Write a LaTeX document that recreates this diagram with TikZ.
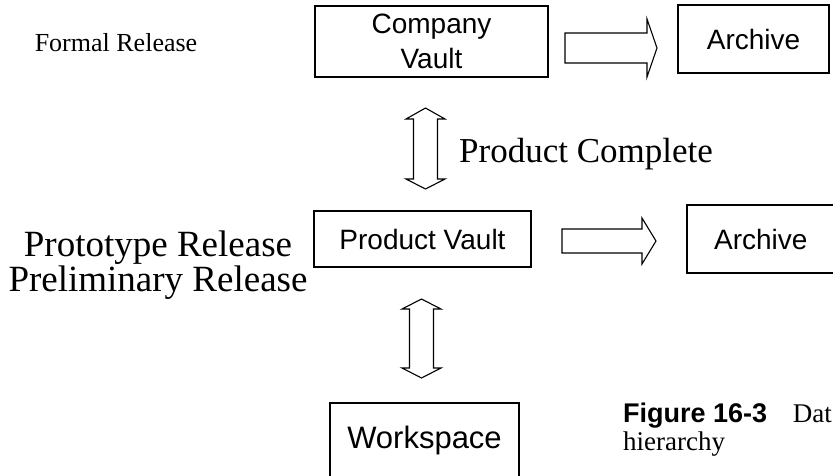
\documentclass[tikz,border=0pt]{standalone}
\usepackage{fontspec}
\setmainfont{Liberation Serif}
\newfontfamily\arialfont{Liberation Sans}
\begin{document}
\begin{tikzpicture}[x=1pt,y=-1pt,
  vault/.style={draw, line width=1.2pt, inner sep=0pt, align=center,
    font=\arialfont\fontsize{28}{35}\selectfont},
  level/.style={inner sep=0pt, anchor=base},
  blockarrow/.style={draw, line width=1.1pt, line join=miter, fill=white}]
\useasboundingbox (0,0) rectangle (833,475);
\clip (0,0) rectangle (833,475);

% storage boxes
\node[vault, minimum width=233pt, minimum height=71pt] (cv) at (431.5,41.5) {Company\\Vault};
\node[vault, minimum width=151pt, minimum height=68pt] (ar1) at (753.5,39) {Archive};
\node[vault, minimum width=217pt, minimum height=56pt] (pv) at (422.5,239) {Product Vault};
\node[vault, minimum width=147.5pt, minimum height=68pt] (ar2) at (760.75,239) {Archive};
\node[vault, minimum width=189pt, minimum height=75pt,
  font=\arialfont\fontsize{31}{35}\selectfont] (ws) at (424.5,440.5) {Workspace};

% release levels
\node[level, font=\fontsize{26}{30}\selectfont] (formal) at (116,51) {Formal Release};
\node[level, font=\fontsize{35}{40}\selectfont] (complete) at (586,162) {Product Complete};
\node[level, font=\fontsize{37}{40}\selectfont] (proto) at (158,256) {Prototype Release};
\node[level, font=\fontsize{37}{40}\selectfont] (prelim) at (158,291) {Preliminary Release};

% hollow block arrows
\draw[blockarrow] (565,33) -- (647,33) -- (647,19) -- (657,48) -- (647,77)
  -- (647,63) -- (565,63) -- cycle;
\draw[blockarrow] (562,229) -- (642,229) -- (642,218) -- (656,241) -- (642,264)
  -- (642,253) -- (562,253) -- cycle;
\draw[blockarrow] (425.5,108) -- (445,119) -- (437.5,119) -- (437.5,179)
  -- (445,179) -- (425.5,189) -- (406,179) -- (413.5,179) -- (413.5,119)
  -- (406,119) -- cycle;
\draw[blockarrow] (421.5,299) -- (441,309) -- (433.5,309) -- (433.5,368)
  -- (441,368) -- (421.5,378) -- (402,368) -- (409.5,368) -- (409.5,309)
  -- (402,309) -- cycle;

% caption
\node[inner sep=0pt, anchor=base west, font=\arialfont\bfseries\fontsize{27}{28}\selectfont]
  (fig) at (623,422) {Figure 16-3};
\node[inner sep=0pt, anchor=base east, font=\fontsize{27}{28}\selectfont]
  (figtxt) at (832,422) {Dat};
\node[inner sep=0pt, anchor=base west, font=\fontsize{27}{28}\selectfont]
  (figtxt2) at (623,450) {hierarchy};
\end{tikzpicture}
\end{document}
